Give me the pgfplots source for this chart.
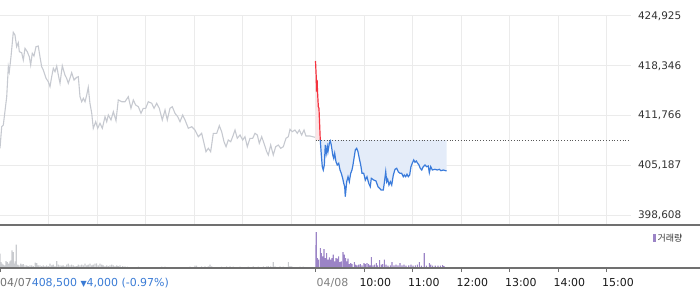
\documentclass[border=0pt]{standalone}
\usepackage{fontspec}
\setmainfont{DejaVu Sans}
\newfontfamily\kr{Noto Sans CJK KR}
\usepackage{pgfplots}
\usepackage{pgfplotstable}
\pgfplotsset{compat=1.18}
\definecolor{gridc}{HTML}{EBEBEB}
\definecolor{prevline}{HTML}{C6C9D0}
\definecolor{upred}{HTML}{F5333F}
\definecolor{dnblue}{HTML}{3A7BDB}
\definecolor{bluefill}{HTML}{E4ECF9}
\definecolor{pinkfill}{HTML}{FBE4E6}
\definecolor{volgray}{HTML}{C9CBCF}
\definecolor{volpurple}{HTML}{9B84C6}
\definecolor{volpurplelt}{HTML}{CBBFE2}
\definecolor{axisc}{HTML}{707070}
\definecolor{labc}{HTML}{333333}
\definecolor{infoblue}{HTML}{3A7BD5}

\pgfplotstableread{
x y
390.0 418974
390.8 417123
391.3 414915
392.0 416462
392.5 414915
393.5 412931
394.3 412719
395.9 408527
}\redtab
\pgfplotstableread{
x y
395.9 408527
397.2 406544
398.4 404997
399.6 404560
400.9 405221
402.1 407866
403.3 406769
404.6 407641
405.4 406980
407.1 408091
408.3 408395
409.5 407866
411.3 406544
412.5 406107
413.7 406769
415.3 405658
416.9 405221
418.7 405446
420.3 404560
421.9 404123
423.6 403462
424.9 402800
426.1 402352
426.8 401030
428.6 403013
430.2 403674
431.8 403013
433.5 404123
435.1 404560
436.3 405221
437.6 406107
439.2 407205
440.9 407430
442.5 406980
444.1 406107
445.9 405221
447.5 404123
449.6 404123
451.6 403238
453.6 403674
455.8 402800
457.7 402352
459.0 403462
461.9 403238
464.8 403106
467.2 402352
470.1 402048
471.0 401916
473.8 401916
475.0 402800
476.8 404335
478.0 403013
479.2 403330
480.8 402577
482.5 403013
484.2 402577
486.2 403899
488.3 404653
490.4 404785
492.3 404335
494.4 404123
496.5 404123
498.5 403674
499.8 403899
501.5 403674
503.1 403992
504.7 403674
506.4 403899
508.0 404997
509.6 405446
511.4 405883
513.0 405579
514.6 405750
516.3 405446
517.9 405221
519.5 404785
521.3 404560
523.2 404997
525.3 405221
527.4 404997
529.4 405089
530.7 404203
532.4 404997
534.4 404560
537.7 404653
540.6 404560
543.0 404653
545.1 404468
548.0 404560
550.9 404468
552.2 404468
}\bluetab

\begin{document}
\begin{tikzpicture}[x=1bp,y=1bp]
\begin{axis}[name=main, anchor=south west, scale only axis,
  width=631bp, height=209bp, xmin=0, xmax=780, ymin=397287, ymax=424925,
  axis line style={draw=none}, major tick length=0pt,
  scaled y ticks=false, scaled x ticks=false,
  xtick={60,120,180,240,300,360,390,450,510,570,630,690,750}, xticklabels=\empty,
  ytick={398608,405187,411766,418346,424925},
  yticklabels={{398,608},{405,187},{411,766},{418,346},{424,925}},
  yticklabel pos=right,
  yticklabel style={anchor=west, xshift=3.5bp, text=labc, font=\fontsize{10.5}{12}\selectfont},
  grid=major, major grid style={gridc, line width=1bp}]
\addplot[prevline, line width=1.1bp] table {
x y
0 407430
2.1 410286
4.1 410511
8.3 414253
10.3 418221
11.5 417559
13.6 419543
16.4 422770
18.5 422413
20.6 420865
22.6 421394
23.9 420204
26.8 420072
28.8 419107
30.9 420654
33.7 420204
36.2 419543
37.9 418445
39.9 419993
42.0 419636
44.5 420865
47.3 420958
49.4 419543
51.5 418221
53.5 417784
56.9 416687
59.7 416237
61.8 415576
63.9 416898
65.9 418009
68.0 417559
70.1 418313
72.1 417123
74.2 416025
77.0 418353
80.3 417123
82.4 416687
84.4 416025
86.5 416687
88.6 417427
91.5 416462
94.8 416819
96.8 416898
98.9 414253
101.0 413592
103.0 414042
105.1 413592
107.2 414478
109.1 415496
111.2 413381
113.4 412058
115.3 410075
118.3 410947
120.8 410075
123.6 410736
126.5 410075
129.8 411609
131.9 410947
133.9 411833
137.2 411172
140.1 412270
143.4 411080
146.2 413817
150.4 413592
154.5 413592
158.6 414253
161.9 412719
164.8 413817
167.7 413156
171.0 412931
174.3 412058
177.1 412719
180.1 412719
183.3 413592
187.5 413381
190.4 412719
193.7 413381
196.9 412719
200.6 411172
204.0 412495
206.8 411172
210.1 412719
213.0 412931
216.3 412058
219.7 411609
222.5 410947
225.8 411833
228.7 411172
232.8 410075
237.0 410286
241.0 409850
245.1 408964
249.3 409413
252.2 408091
254.6 406980
257.5 407430
260.4 406980
263.7 409413
267.9 409413
271.1 410418
274.0 409625
276.9 408303
279.4 407641
282.2 408527
285.2 408303
288.4 409189
290.5 409850
293.3 408752
296.7 409189
300.0 408527
302.8 408964
305.7 407641
309.0 408752
312.4 408752
315.2 409413
318.1 409189
320.5 408091
323.5 408964
326.3 408091
329.7 406980
331.7 406544
334.6 407866
337.8 406544
340.8 407641
344.0 407866
347.0 407430
350.2 407641
353.5 408752
356.4 408964
358.5 409942
361.3 409625
364.6 409850
367.5 409413
370.0 409850
372.9 409189
375.8 409850
378.2 409056
383.2 409056
389.4 408884
};
% area between the day's line and the reference level 408,500
\addplot[fill=pinkfill, draw=none] table {\redtab} -- (axis cs:395.9,408500) -- (axis cs:390,408500) -- cycle;
\addplot[fill=bluefill, draw=none] table {\bluetab} -- (axis cs:552.2,408500) -- (axis cs:395.9,408500) -- cycle;
\addplot[black!65, dotted, line width=0.8bp] coordinates {(390,408500) (780,408500)};
\addplot[upred, line width=1.2bp] table {\redtab};
\addplot[dnblue, line width=1.2bp] table {\bluetab};
\end{axis}

\begin{axis}[name=vol, at={(main.south west)}, anchor=north west, scale only axis,
  width=631bp, height=43bp, xmin=0, xmax=780, ymin=0, ymax=43,
  axis line style={draw=none}, ytick=\empty,
  scaled y ticks=false, scaled x ticks=false,
  xtick={0,390,450,510,570,630,690,750}, xticklabels=\empty,
  tick align=outside, tick pos=bottom, major tick length=4bp,
  xtick style={axisc, line width=0.9bp}]
\addplot[fill=volgray, draw=none] coordinates {(0,0) (0,1) (379,1) (379,0)};
\addplot[ybar, bar width=1.4, bar shift=0pt, fill=volgray, draw=none] table {
x v
0 14.3
1.2 6
2.5 4.3
4.1 3.3
5.8 2.7
7.4 7
9.0 6
10.8 4.3
12.4 6.7
13.6 7.7
14.8 17.7
16.4 16
17.7 4.3
18.9 6.7
20.1 23.3
21.9 3.3
23.5 2.7
25.6 4.3
27.2 3.3
28.8 4
30.9 2.7
33.0 2.7
35.0 2
37.1 2.7
39.2 2.7
41.2 2
43.6 5.3
45.4 5
47.3 2.7
49.4 2.7
51.5 2
53.5 2.7
55.6 2
57.7 2.7
59.7 2
61.8 4.3
63.9 2.7
65.9 3.3
68.0 2
70.1 7
72.1 3.3
74.2 2.7
76.3 2.3
78.2 2.7
80.3 2
82.4 3.3
84.4 4.3
86.5 2.7
88.6 3.3
90.6 2.7
92.7 2
94.8 2
96.8 3.3
98.9 2.7
101.0 3.3
103.0 2.7
105.1 4.3
107.2 2.7
109.1 3.3
111.2 4.3
113.4 2.7
115.3 3.3
117.4 4.3
119.5 4.7
121.5 2.7
123.6 4.3
125.7 3.3
127.7 2.7
129.8 2
131.9 2.7
133.9 2
136.0 2.7
138.1 3.3
140.1 2.7
142.2 2
144.3 2.7
146.2 2
148.3 2.7
151.7 2
154.5 1.7
157.4 1.3
171.0 1.3
199.9 1.3
204.0 1.3
234.9 1.3
241.0 2.3
243.1 2.3
249.3 1.7
253.4 1.7
257.5 1.7
259.6 3.3
261.7 1.7
274.0 1.3
280.2 1.7
284.3 1.7
288.4 1.3
296.7 1.3
306.9 1.3
313.1 1.7
319.3 1.3
325.5 1.7
329.7 1.7
331.7 2
334.6 1.7
337.8 6
339.9 1.7
346.1 1.7
350.2 1.3
356.4 6
358.5 2
360.6 1.7
370.8 1.3
374.9 1.3
};
\addplot[ybar, bar width=1.4, bar shift=0pt, fill=volpurplelt, draw=none] coordinates {(389.8,23.3)};
\addplot[ybar, bar width=1.4, bar shift=0pt, fill=volpurple, draw=none] table {
x v
391.0 36
392.3 10
393.9 8.3
396.0 20
397.2 15
398.8 11.7
400.5 19
402.1 10
403.8 15
405.4 8.3
407.1 10.7
408.7 8.3
410.4 10
412.0 13.3
413.7 6.7
415.3 10
417.0 9.3
418.6 11.7
420.3 6
421.9 6.7
424.0 16
425.6 13.3
427.3 10
428.9 6.7
430.2 9.3
431.8 4
433.5 5
435.1 4
438.0 6
439.6 3.3
441.3 2.7
443.4 3.3
445.4 4
447.5 2.7
450.0 5
451.6 4
453.6 5
455.7 4
457.4 2.7
459.0 11
461.1 2.7
463.1 3.3
465.2 5
466.8 2.7
469.3 8
471.4 3.3
473.0 4
475.1 8.3
477.1 3.3
479.6 2.3
482.5 2.7
484.5 6
487.0 2.7
489.5 3.3
492.0 2.7
494.4 5
496.9 2.7
499.4 3.3
501.9 2.3
505.2 2.7
508.1 3.3
510.5 2.3
513.4 2.7
515.9 3.3
518.4 6
520.8 2.3
524.5 15
527.0 2.3
530.7 5
532.4 3.3
534.8 2.3
538.1 2.3
541.4 2.3
544.3 2.3
547.2 3
548.8 2
};
\end{axis}

\draw[axisc, line width=1.3bp] (main.south west) -- ++(700,0);
\draw[axisc, line width=1.1bp] (vol.south west) -- ++(700,0);

\begin{scope}[shift={(vol.south west)}]
% legend
\fill[volpurple] (653,26) rectangle (655.5,34);
\node[anchor=west, inner sep=0, text=labc, font=\kr\fontsize{9}{10}\selectfont] at (657.5,30) {거래량};
% bottom labels
\begin{scope}[every node/.style={anchor=base west, inner sep=0, font=\fontsize{11}{12}\selectfont}]
\node[text=black!55] at (0,-18.5) {04/07\textcolor{infoblue}{408,500 {\fontsize{8}{9}\selectfont▼}4,000 (-0.97\%)}};
\node[text=black!50] at (316.5,-18.5) {04/08};
\node[text=black!90] at (359.3,-18.5) {10:00};
\node[text=black!90] at (407.8,-18.5) {11:00};
\node[text=black!90] at (456.4,-18.5) {12:00};
\node[text=black!90] at (504.9,-18.5) {13:00};
\node[text=black!90] at (553.4,-18.5) {14:00};
\node[text=black!90] at (602.0,-18.5) {15:00};
\end{scope}
\end{scope}
\pgfresetboundingbox
\path[use as bounding box] ([yshift=-21bp]vol.south west) rectangle ++(700,289);
\end{tikzpicture}
\end{document}
